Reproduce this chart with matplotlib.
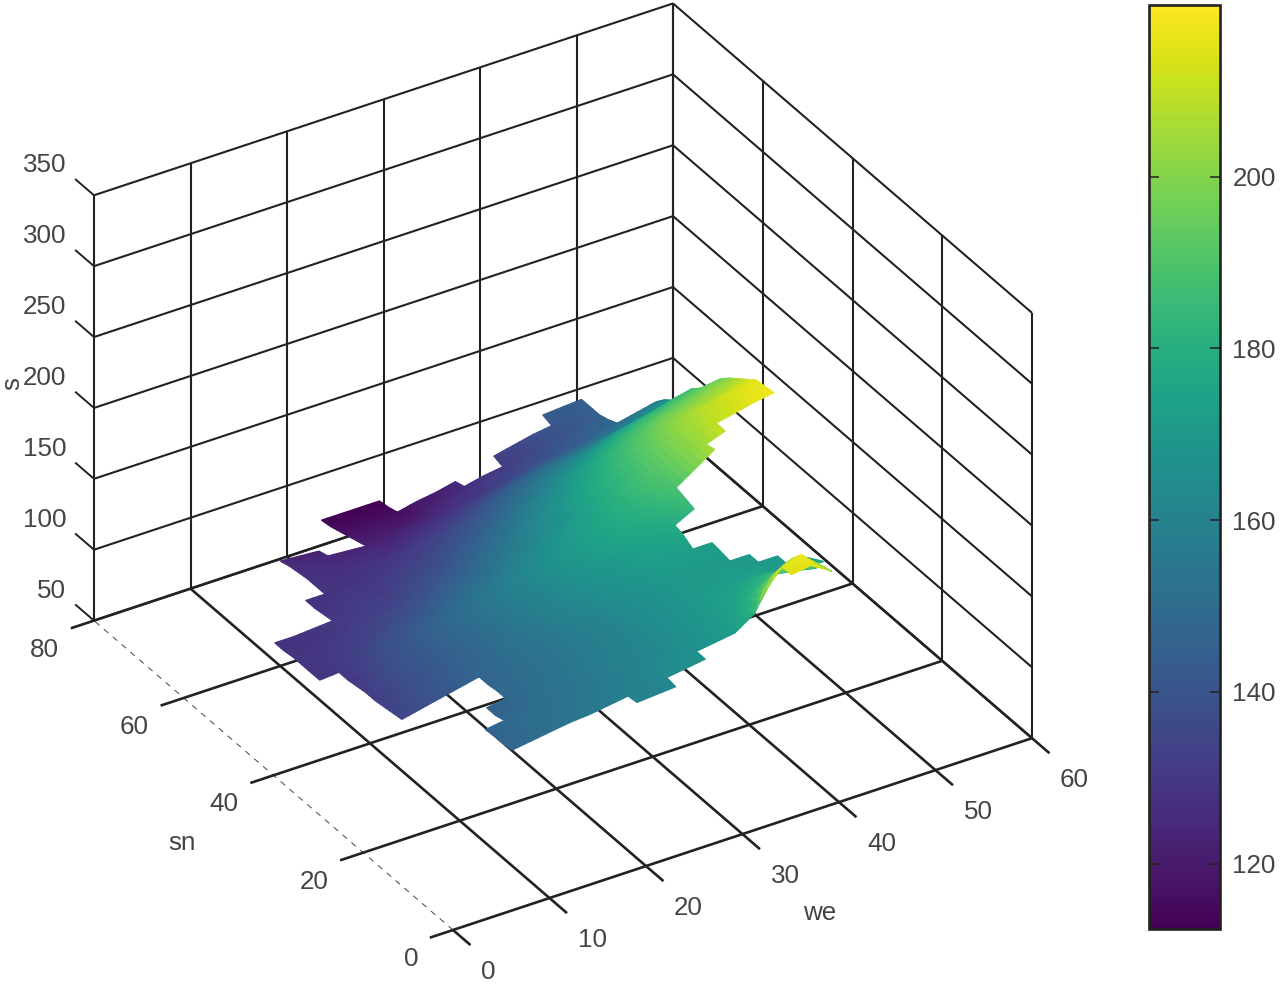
import numpy as np
import matplotlib
matplotlib.use("Agg")
import matplotlib.pyplot as plt
from matplotlib import cm
from matplotlib.colors import Normalize
from mpl_toolkits.mplot3d import proj3d
from mpl_toolkits.mplot3d.art3d import Poly3DCollection

plt.rcParams["font.family"] = ["Liberation Sans", "DejaVu Sans"]

n = np.nan

# tick values
we_ticks = [0, 10, 20, 30, 40, 50, 60]
sn_ticks = [0, 20, 40, 60, 80]
s_ticks = [50, 100, 150, 200, 250, 300, 350]
cbar_ticks = [120, 140, 160, 180, 200]

# surface, one row per sn, first value sits at we_start, step 2
sn_rows = list(range(2, 70, 2))
we_start = [20, 8, 8, 8, 8, 10, 10, 12, 12, 4, 4, 4, 4, 4, 4, 4, 2, 2,
            2, 2, 2, 2, 8, 8, 8, 10, 10, 10, 10, 10, 18, 18, 18, 18]
s_rows = [
    [160, 161, 162, n, n, n, n, n, 214, 216, 208],
    [148, 150, 152, 154, 155, 157, 159, 161, 163, 165, 167, n, n, 201, 214, 218, 205],
    [147, 149, 151, 153, 155, 156, 158, 160, 163, 165, 167, 169, 171, 180, 203, 210, 204, 192],
    [147, 149, 151, 152, 154, 156, 157, 159, 162, 164, 166, 169, 172, 178, 190, 200, 195, 190],
    [146, 148, 150, 151, 153, 155, 157, 159, 161, 163, 166, 168, 171, 175, 182, 188, 186, 183],
    [146, 148, 151, 153, 155, 157, 159, 161, 163, 165, 168, 170, 173, 177, 182, 180, 178, 178],
    [146, 148, 150, 152, 154, 156, 158, 160, 163, 165, 167, 170, 172, 174, 176, 175, 174, 174],
    [148, 150, 152, 154, 156, 158, 160, 163, 165, 167, 170, 171, 171, 172, 171, 170, 170],
    [147, 149, 151, 153, 156, 158, 160, 163, 165, 167, 170, 170, 171, 171, 170, 170],
    [135, 138, 141, 144, 147, 149, 151, 153, 156, 158, 161, 164, 166, 168, 170, 170, 170, 170, 170],
    [134, 137, 141, 144, 147, 149, 152, 154, 157, 160, 162, 165, 167, 169, 171, 171, 171, 171],
    [133, 137, 140, 143, 146, 148, 151, 154, 157, 160, 163, 166, 168, 170, 172, 172, 172, 172],
    [132, 136, 139, 142, 145, 148, 151, 155, 158, 161, 164, 167, 169, 171, 174, 175, 176],
    [132, 136, 139, 142, 145, 148, 151, 155, 158, 161, 165, 168, 170, 173, 175, 177, 178, 185],
    [131, 135, 139, 142, 145, 148, 152, 155, 159, 162, 166, 169, 172, 175, 177, 179, 182, 187],
    [130, 134, 138, 141, 145, 148, 151, 155, 158, 162, 165, 169, 172, 175, 178, 181, 185, 189, 198, 207],
    [129, 130, 133, 137, 140, 143, 146, 150, 153, 156, 160, 163, 167, 171, 175, 178, 182, 187, 191, 198, 205, 210],
    [129, 130, 132, 135, 138, 141, 143, 147, 150, 153, 157, 161, 165, 169, 173, 177, 182, 187, 192, 198, 204, 210, 213, 216, 218],
    [129, 130, 131, 133, 135, 138, 140, 144, 147, 150, 154, 158, 162, 166, 171, 176, 181, 186, 192, 198, 204, 209, 212, 215, 217],
    [129, 129, 130, 132, 134, 136, 138, 141, 144, 147, 151, 155, 160, 164, 169, 175, 180, 185, 191, 197, 203, 208, 211, 214, 216],
    [128, 129, 129, 130, 132, 133, 135, 138, 141, 144, 148, 152, 157, 162, 167, 172, 178, 183, 189, 195, 200, 203, 205, 208, 211],
    [128, 128, 129, 130, 131, 132, 133, 136, 138, 141, 145, 149, 153, 158, 163, 169, 174, 180, 186, 191, 196, 198, 201, 204, 206],
    [129, 130, 131, 131, 134, 136, 138, 142, 146, 150, 155, 160, 165, 171, 176, 181, 186, 190, 193, 196, 199, 201],
    [128, 129, 130, 130, 132, 134, 136, 139, 142, 146, 151, 155, 160, 165, 170, 175, 180, 184, 187, 190, 193, 195],
    [128, 128, 129, 129, 130, 131, 133, 136, 139, 143, 147, 151, 156, 160, 164, 168, 173, 177, 180, 184, 187],
    [128, 128, 128, 129, 130, 131, 134, 136, 139, 143, 147, 151, 155, 158, 161, 165, 168, 171, 174, 177],
    [128, 127, 127, 127, 127, 128, 130, 132, 135, 139, 143, 147, 150, 152, 154, 156, 158, 162, 166, 168],
    [127, 126, 125, 125, 125, 125, 127, 129, 131, 134, 137, 140, 143, 146, 148, 150, 153, 156, 160, 163],
    [126, 125, 124, 123, 122, 122, 124, 125, 127, 129, 131, 134, 137, 140, 142, 144, 147, 150, 153, 156],
    [124, 123, 122, n, 120, 120, 120, 121, 124, 127, 129, 132, 134, 137, 140, 142, 145, 147],
    [118, 118, 118, 118, 121, 123, 126, 129, 131, 134, 137, 140, 142, 145],
    [116, 116, 116, 116, 119, 121, 124, n, 133, 136, 139, 141, 143, 145],
    [114, 114, 114, 114, n, n, n, n, n, n, n, 143, 144, 145],
    [113, 113, 113, 113],
]

W, H = 1280, 986
DARK = "#222222"
TEXT = "#444444"
FS = 18.7

fig = plt.figure(figsize=(W / 100, H / 100), dpi=100)
ax = fig.add_axes([-0.2, -0.2, 1.4, 1.4], projection="3d", proj_type="ortho", computed_zorder=False)
ax.set_xlim(0, 60, view_margin=0)
ax.set_ylim(0, 80, view_margin=0)
ax.set_zlim(50, 350, view_margin=0)
ax.view_init(elev=32.3, azim=-121.8)
ax.set_axis_off()


def to_px(x, y, z):
    xs, ys, _ = proj3d.proj_transform(x, y, z, ax.get_proj())
    return ax.transData.transform((xs, ys))


# fit the box onto the frame of the picture
aspect = (681, 681, 503)
ax.set_box_aspect(aspect, zoom=1)
fig.canvas.draw()
span = to_px(60, 0, 50)[0] - to_px(0, 80, 50)[0]
ax.set_box_aspect(aspect, zoom=938 / span)
fig.canvas.draw()
o = to_px(0, 0, 50)
pos = ax.get_position(original=True)
ax.set_position([pos.x0 + (453 - o[0]) / W, pos.y0 + (H - 930 - o[1]) / H, pos.width, pos.height])
fig.canvas.draw()

# walls and floor
line = dict(color=DARK, zorder=1, solid_capstyle="butt")
for w in we_ticks:
    ax.plot([w, w], [80, 80], [50, 350], lw=1.5, **line)
    ax.plot([w, w], [0 if w == 0 else 80, -3.9], [50, 50], lw=1.9, **line)
ax.plot([0, 0], [0, 80], [50, 50], lw=0.7, color=TEXT, linestyle=(0, (6, 6)), zorder=1)
for v in sn_ticks:
    ax.plot([60, 60], [v, v], [50, 350], lw=1.5, **line)
    ax.plot([-2.4, 60], [v, v], [50, 50], lw=1.9, **line)
for z in s_ticks:
    ax.plot([0, 60], [80, 80], [z, z], lw=1.5, **line)
    ax.plot([60, 60], [80, 0], [z, z], lw=1.5, **line)
    ax.plot([0, 0], [80, 84.2], [z, z], lw=1.4, **line)

# surface, every table cell is split into small facets so the colour runs smooth
we_grid = np.arange(0, 54, 2)
sn_grid = np.arange(0, 72, 2)
s = np.full((len(sn_grid), len(we_grid)), np.nan)
for sn, start, vals in zip(sn_rows, we_start, s_rows):
    s[sn // 2, start // 2:start // 2 + len(vals)] = vals

norm = Normalize(112.4, 220)
cmap = plt.get_cmap("viridis")
parts = np.linspace(0, 1, 4)


def corner(c, a, b):
    return (1 - a) * (1 - b) * c[0] + a * (1 - b) * c[1] + a * b * c[2] + (1 - a) * b * c[3]


verts = []
means = []
for i in range(len(sn_grid) - 1):
    for j in range(len(we_grid) - 1):
        c = [s[i, j], s[i, j + 1], s[i + 1, j + 1], s[i + 1, j]]
        if np.isnan(c).any():
            continue
        for a0, a1 in zip(parts[:-1], parts[1:]):
            for b0, b1 in zip(parts[:-1], parts[1:]):
                facet = [(a0, b0), (a1, b0), (a1, b1), (a0, b1)]
                zs = [corner(c, a, b) for a, b in facet]
                verts.append([(we_grid[j] + 2 * a, sn_grid[i] + 2 * b, z) for (a, b), z in zip(facet, zs)])
                means.append(np.mean(zs))
face = cmap(norm(means))
ax.add_collection3d(Poly3DCollection(verts, facecolors=face, edgecolors=face, linewidths=0.9, zorder=2))

# tick labels, placed from where their tick sits on the box
style = dict(fontsize=FS, color=TEXT, va="center")
for w in we_ticks:
    px, py = to_px(w, 0, 50)
    fig.text((px + 28) / W, (py - 42) / H, str(w), ha="left", **style)
for v in sn_ticks:
    px, py = to_px(0, v, 50)
    fig.text((px - 35) / W, (py - 29) / H, str(v), ha="right", **style)
for z in s_ticks:
    px, py = to_px(0, 80, z)
    fig.text((px - 28) / W, (py + 30) / H, str(z), ha="right", **style)

fig.text(820 / W, 1 - 913 / H, "we", ha="center", **style)
fig.text(182 / W, 1 - 843 / H, "sn", ha="center", **style)
fig.text(12 / W, 1 - 383 / H, "s", ha="center", rotation=90, **style)

# colour bar
cax = fig.add_axes([1149 / W, 1 - 929 / H, 71 / W, 924 / H])
cb = fig.colorbar(cm.ScalarMappable(norm=norm, cmap=cmap), cax=cax, ticks=cbar_ticks)
cb.outline.set_linewidth(1.9)
cb.outline.set_edgecolor(DARK)
cax.tick_params(direction="in", left=True, right=True, length=7, width=1.1, color=DARK,
                labelsize=FS, labelcolor=TEXT, pad=9)

fig.savefig("out.png", dpi=100)
